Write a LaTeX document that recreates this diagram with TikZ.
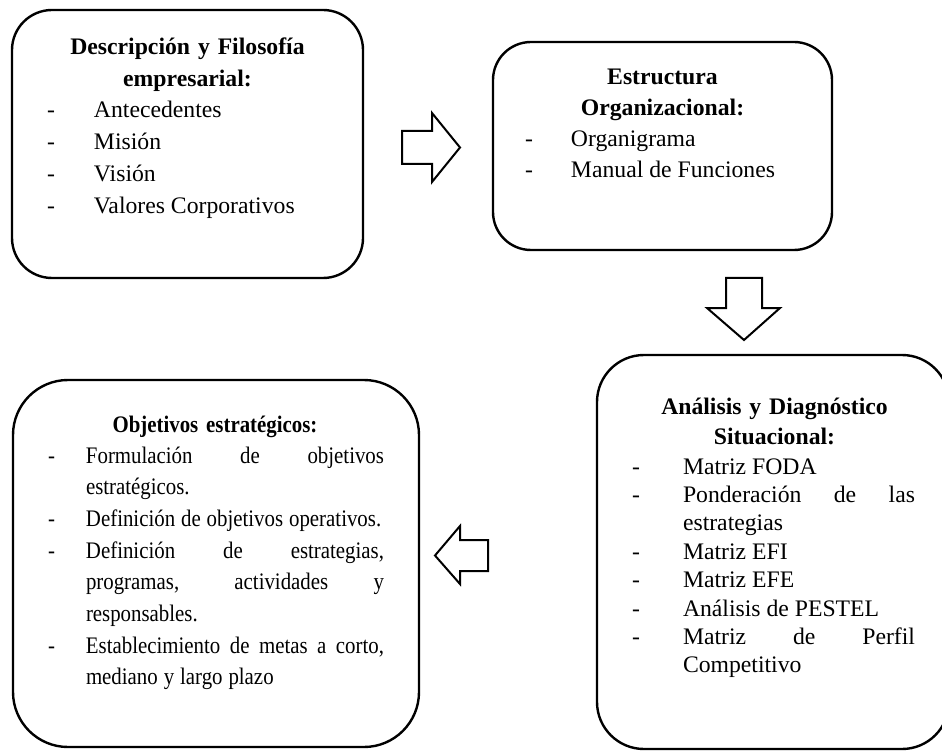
\documentclass[tikz,border=0pt]{standalone}
\usepackage{fontspec}
\setmainfont{Liberation Serif}
\newfontfamily\condfont[FakeStretch=0.88]{Liberation Serif}
\newcommand{\itm}[2]{\noindent\llap{-\hspace{#1}}#2\par}
\newcommand{\txtsetup}{\hyphenpenalty=10000 \exhyphenpenalty=10000 \tolerance=10000 \spaceskip=.25em plus 3em minus .05em\relax}
\tikzset{
  box/.style={draw=black, line width=2.4pt, rectangle, inner sep=0pt, outer sep=0pt, fill=none},
  blockarrow/.style={draw=black, line width=2pt, fill=white, line join=miter},
  ttl/.style={inner sep=0pt, outer sep=0pt, align=center, anchor=base},
  items/.style={inner sep=0pt, outer sep=0pt, anchor=base west, align=justify}
}
\begin{document}
\begin{tikzpicture}[x=1pt, y=-1pt]
\useasboundingbox (0,0) rectangle (942,751);
\clip (0,0) rectangle (942,751);
\fill[white] (0,0) rectangle (942,751);

% boxes
\node[box, minimum width=351pt, minimum height=268pt, rounded corners=40pt] (b1) at (187.5,144) {};
\node[box, minimum width=339pt, minimum height=208pt, rounded corners=38pt] (b2) at (662.5,146) {};
\node[box, minimum width=352pt, minimum height=394pt, rounded corners=47pt] (b3) at (773,552) {};
\node[box, minimum width=406pt, minimum height=367pt, rounded corners=55pt] (b4) at (216,563.5) {};

% box 1
\node[ttl, text width=340pt, font=\fontsize{23.7}{32}\selectfont\bfseries] (t1) at (187.5,55) {Descripción y Filosofía\\empresarial:};
\node[items, text width=260pt, font=\fontsize{23.7}{32}\selectfont\txtsetup] (i1) at (94,118) {%
\itm{39pt}{Antecedentes}%
\itm{39pt}{Misión}%
\itm{39pt}{Visión}%
\itm{39pt}{Valores Corporativos}};

% box 2
\node[ttl, text width=330pt, font=\fontsize{23.7}{31}\selectfont\bfseries] (t2) at (662.5,85) {Estructura\\Organizacional:};
\node[items, text width=250pt, font=\fontsize{23.7}{31}\selectfont\txtsetup] (i2) at (571,147) {%
\itm{38pt}{Organigrama}%
\itm{38pt}{Manual de Funciones}};

% box 3
\node[ttl, text width=340pt, font=\fontsize{23.7}{30}\selectfont\bfseries] (t3) at (774.5,414) {Análisis y Diagnóstico\\Situacional:};
\node[items, text width=232pt, font=\fontsize{23.7}{28.4}\selectfont\txtsetup] (i3) at (683,474) {%
\itm{43pt}{Matriz FODA}%
\itm{43pt}{Ponderación de las\linebreak estrategias}%
\itm{43pt}{Matriz EFI}%
\itm{43pt}{Matriz EFE}%
\itm{43pt}{Análisis de PESTEL}%
\itm{43pt}{Matriz de Perfil\linebreak Competitivo}};

% box 4
\node[ttl, text width=400pt, font=\condfont\fontsize{23.7}{31.7}\selectfont\bfseries] (t4) at (215,432) {Objetivos estratégicos:};
\node[items, text width=298pt, font=\condfont\fontsize{23.7}{31.7}\selectfont\txtsetup] (i4) at (86,463) {%
\itm{31pt}{Formulación de objetivos\linebreak estratégicos.}%
\itm{31pt}{Definición de objetivos operativos.}%
\itm{31pt}{Definición de estrategias,\linebreak programas, actividades y\linebreak responsables.}%
\itm{31pt}{Establecimiento de metas a corto,\linebreak mediano y largo plazo}};

% block arrows
\draw[blockarrow] (402,131) -- (432,131) -- (432,113) -- (460,147.5) -- (432,182) -- (432,164) -- (402,164) -- cycle;
\draw[blockarrow] (726,278) -- (762,278) -- (762,308) -- (780,308) -- (744,340) -- (707,308) -- (726,308) -- cycle;
\draw[blockarrow] (488,540) -- (488,571) -- (460,571) -- (460,584) -- (435,555.5) -- (460,526) -- (460,540) -- cycle;
\end{tikzpicture}
\end{document}
